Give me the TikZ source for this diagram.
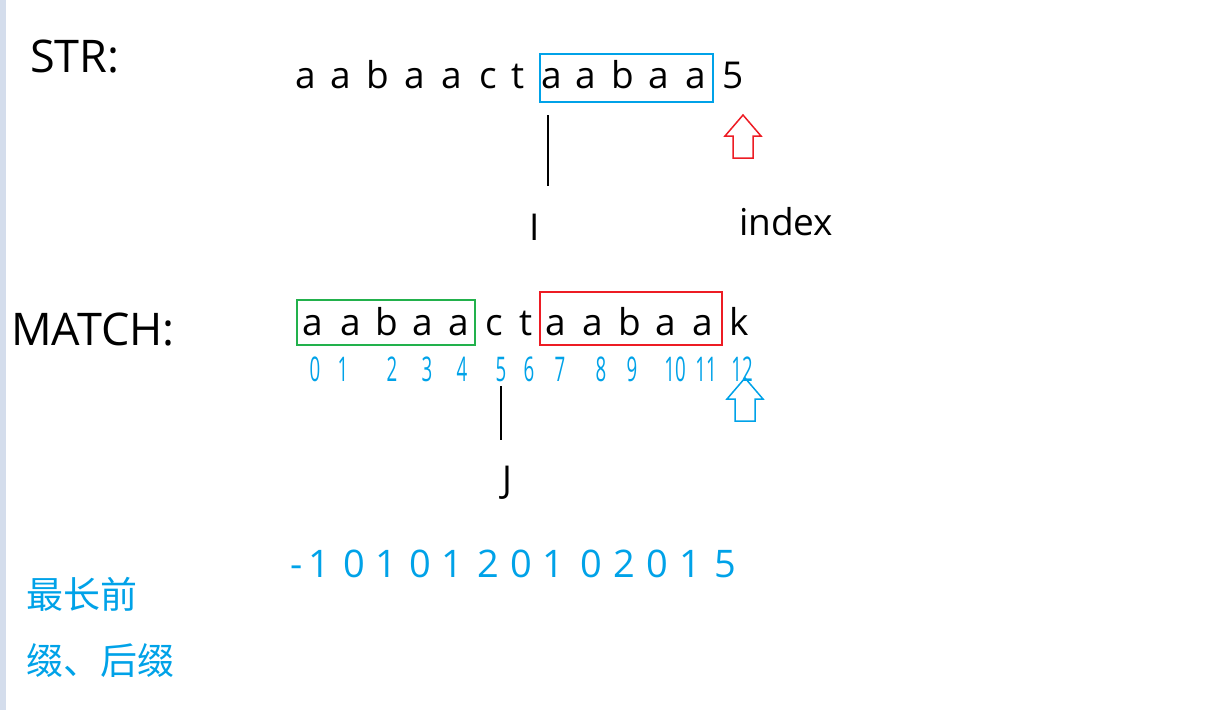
\documentclass[tikz,border=0pt]{standalone}
\usepackage{fontspec}
\setmainfont{Open Sans}
\newfontfamily\cjkfont{Noto Sans CJK SC}
\usetikzlibrary{positioning}
\definecolor{paintblue}{RGB}{0,162,232}
\definecolor{paintred}{RGB}{237,28,36}
\definecolor{paintgreen}{RGB}{34,177,76}
\definecolor{edgegray}{RGB}{212,221,236}
\tikzset{
    letter/.style={anchor=base, inner sep=0pt, font=\fontsize{37}{44}\selectfont},
    title/.style={anchor=base west, inner sep=0pt, font=\fontsize{45}{54}\selectfont},
    hand/.style={anchor=base, inner sep=0pt, text=paintblue, font=\fontsize{34}{40}\selectfont},
    nextval/.style={anchor=base, inner sep=0pt, text=paintblue, font=\fontsize{38}{46}\selectfont},
    note/.style={anchor=base west, inner sep=0pt, text=paintblue, font=\cjkfont\fontsize{37}{44}\selectfont},
    pointer/.style={line width=2pt},
    markbox/.style={line width=2pt},
    hollowup/.pic={
        \draw[line width=1.5pt] (0,0) -- (18,21) -- (10,21) -- (10,43) -- (-10,43) -- (-10,21) -- (-18,21) -- cycle;
    }
}

\begin{document}
\begin{tikzpicture}[x=1pt, y=-1pt]
\useasboundingbox (0,0) rectangle (1218,710);
\fill[edgegray] (0,0) rectangle (6,710);

\node[title] (strlab) at (30,72) {STR:};
\node[title] (matchlab) at (11,345) {MATCH:};

% text string
\foreach \ch/\x [count=\i] in {a/306,a/341,b/378,a/415,a/452,c/488,t/518,a/552,a/586,b/623,a/659,a/696,5/733}
    \node[letter] (s\i) at (\x,88) {\ch};
\draw[markbox, paintblue] (540,54) rectangle (713,102);
\pic[paintred] at (743,115) {hollowup};

\coordinate (itop) at (548,115);
\coordinate (ibot) at (548,186);
\draw[pointer] (itop) -- (ibot);
\node[letter] (ilab) at (535,240) {I};
\node[letter, anchor=base west] (indexlab) at (739,235) {index};

% pattern
\foreach \ch/\x [count=\i] in {a/313,a/351,b/387,a/423,a/459,c/494,t/526,a/556,a/593,b/630,a/666,a/703,k/739}
    \node[letter] (m\i) at (\x,335) {\ch};
\draw[markbox, paintgreen] (297,300) rectangle (475,345);
\draw[markbox, paintred] (540,292) rectangle (722,345);

\foreach \n/\x in {0/315,1/343,2/392,3/427,4/462,5/501,6/529,7/560,8/601,9/632,10/675,11/706,12/742}
    \node[hand] (h\n) at (\x,381) {\scalebox{0.55}[1]{\n}};
\pic[paintblue] at (745,378) {hollowup};

\coordinate (jtop) at (501,386);
\coordinate (jbot) at (501,440);
\draw[pointer] (jtop) -- (jbot);
\node[letter] (jlab) at (507,492) {J};

% next array
\foreach \v/\x [count=\i] in {-/297,1/319,0/354,1/386,0/420,1/452,2/488,0/521,1/553,0/591,2/624,0/657,1/690,5/725}
    \node[nextval] (n\i) at (\x,577) {\v};

\node[note] (note1) at (26,608) {最长前};
\node[note] (note2) at (26,674) {缀、后缀};
\end{tikzpicture}
\end{document}
